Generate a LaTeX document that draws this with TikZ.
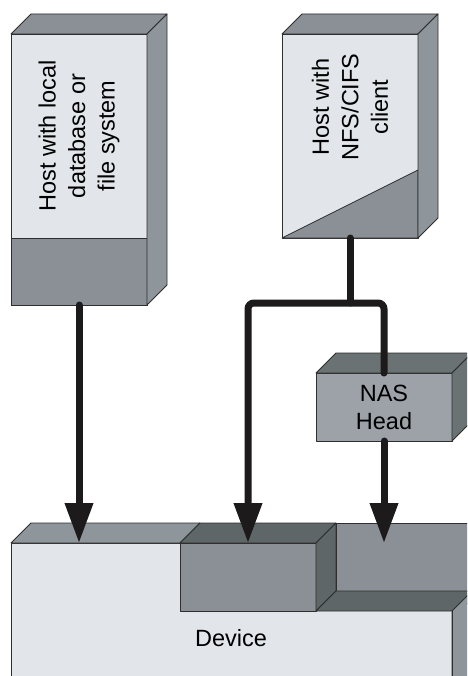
\documentclass[tikz,border=0pt]{standalone}
\usepackage{fontspec}
\setmainfont{Liberation Sans}
\usetikzlibrary{arrows.meta}

\definecolor{facelight}{HTML}{E2E5EA}
\definecolor{facemid}{HTML}{8A9096}
\definecolor{faceside}{HTML}{8F969B}
\definecolor{facedark}{HTML}{5E6667}
\definecolor{nasfront}{HTML}{9CA2A8}
\definecolor{nasdark}{HTML}{6A7273}
\definecolor{edgecol}{HTML}{2E2E2E}
\definecolor{wirecol}{HTML}{1C1A1A}

\tikzset{
  x=1pt, y=-1pt,
  face/.style={draw=edgecol, line width=0.8pt, line join=round},
  frontface/.style={face, rectangle, inner sep=0pt, outer sep=0pt},
  boxlabel/.style={font=\fontsize{23.5}{29.5}\selectfont, text=black, align=center, inner sep=0pt},
  wire/.style={draw=wirecol, line width=7pt, line cap=round, rounded corners=6pt},
  arrowwire/.style={wire, -{Triangle[width=27pt,length=40pt]}},
}

\begin{document}
\begin{tikzpicture}
\useasboundingbox (0,0) rectangle (467,676);
\clip (0,0) rectangle (467,676);

% ---------- host with local storage ----------
\node[frontface, fill=facelight, minimum width=136pt, minimum height=271pt] (host1) at (79,169.5) {};
\draw[face, fill=facemid] (11,238) rectangle (host1.south east);
\draw[face, fill=facemid] (host1.north west) -- ++(20,-20) -- ++(136,0) -- (host1.north east) -- cycle;
\draw[face, fill=faceside] (host1.north east) -- ++(20,-20) -- ++(0,271) -- (host1.south east) -- cycle;
\node[boxlabel, rotate=90] (host1text) at (79,136) {Host with local\\database or\\file system};

% ---------- host with NFS/CIFS client ----------
\node[frontface, fill=facelight, minimum width=136pt, minimum height=204pt] (host2) at (350,136) {};
\draw[face, fill=facemid] (host2.south west) -- (418,170) -- (host2.south east) -- cycle;
\draw[face, fill=facemid] (host2.north west) -- ++(20,-20) -- ++(136,0) -- (host2.north east) -- cycle;
\draw[face, fill=faceside] (host2.north east) -- ++(20,-20) -- ++(0,204) -- (host2.south east) -- cycle;
\node[boxlabel, rotate=90] (host2text) at (350,107) {Host with\\NFS/CIFS\\client};

% ---------- NAS head ----------
\node[frontface, fill=nasfront, minimum width=136pt, minimum height=68pt] (nas) at (384,407) {};
\draw[face, fill=nasdark] (nas.north west) -- ++(20,-20) -- ++(136,0) -- (nas.north east) -- cycle;
\draw[face, fill=nasdark] (nas.north east) -- ++(20,-20) -- ++(0,68) -- (nas.south east) -- cycle;
\node[boxlabel, font=\fontsize{23.5}{28}\selectfont] (nastext) at (nas.center) {NAS\\Head};

% ---------- device ----------
\node[frontface, fill=facelight, minimum width=441pt, minimum height=140pt] (device) at (231.5,613) {};
% top face of the left part
\draw[face, fill=faceside] (11,543) -- (31,523) -- (200,523) -- (180,543) -- cycle;
% raised block in the middle
\draw[face, fill=facedark] (180,543) -- (200,523) -- (336,523) -- (316,543) -- cycle;
\draw[face, fill=facemid] (180,543) rectangle (316,611);
\draw[face, fill=facedark] (316,543) -- (336,523) -- (336,591) -- (316,611) -- cycle;
% recess on the right
\draw[face, fill=facemid] (336,523) rectangle (480,591);
\draw[face, fill=facedark] (316,611) -- (336,591) -- (480,591) -- (460,611) -- cycle;
\draw[face, fill=faceside] (452,611) -- (472,591) -- (472,700) -- (452,700) -- cycle;
\draw[face] (452,611) -- (452,700);
\node[boxlabel] (devicetext) at (231,638) {Device};

% ---------- connections ----------
\coordinate (bus) at (350,303);
\coordinate (busleft) at (248,303);
\draw[arrowwire] (host1.south) -- (host1.south |- device.north);
\draw[wire] (host2.south) -- (bus);
\draw[arrowwire] (nas.north) |- (busleft) -- (busleft |- device.north);
\draw[arrowwire] (nas.south) -- (nas.south |- device.north);
\end{tikzpicture}
\end{document}
